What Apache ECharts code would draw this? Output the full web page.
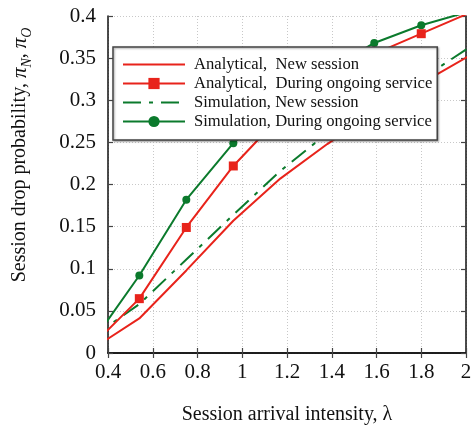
<!DOCTYPE html>
<html>
<head>
<meta charset="utf-8">
<script src="https://cdn.jsdelivr.net/npm/echarts@6/dist/echarts.min.js"></script>
<style>
  html, body { margin: 0; padding: 0; background: #fff; }
  #chart { width: 474px; height: 425px; }
</style>
</head>
<body>
<div id="chart"></div>
<script>
// 到达强度 λ（首尾两个点落在坐标轴外，被裁剪）
const lambdaValues = [0.33, 0.54, 0.75, 0.96, 1.17, 1.38, 1.59, 1.80, 2.01];
const analyticalNew = [0.005, 0.041, 0.098, 0.157, 0.207, 0.248, 0.285, 0.320, 0.352];
const analyticalOngoing = [0.009, 0.0645, 0.149, 0.222, 0.281, 0.322, 0.355, 0.379, 0.403];
const simulationNew = [0.019, 0.058, 0.111, 0.164, 0.216, 0.261, 0.293, 0.325, 0.362];
const simulationOngoing = [0.013, 0.092, 0.182, 0.249, 0.295, 0.335, 0.368, 0.389, 0.405];

const seriesNames = [
  'Analytical,  New session',
  'Analytical,  During ongoing service',
  'Simulation, New session',
  'Simulation, During ongoing service'
];

const RED = '#e8231b';
const GREEN = '#0b7a2c';
const FONT = '"Liberation Serif", "DejaVu Serif", serif';

function pairs(ys) {
  let arr = [];
  for (let i in ys) {
    arr.push([lambdaValues[i], ys[i]]);
  }
  return arr;
}

const chart = echarts.init(document.getElementById('chart'), null, { renderer: 'canvas' });

const axisLine = { show: true, lineStyle: { color: '#111', width: 1.5 } };
const axisTick = { show: true, inside: true, length: 5, lineStyle: { color: '#444', width: 1.2 } };
const splitLine = { show: true, lineStyle: { color: '#c8c8c8', type: [1, 2], width: 1 } };

let option = {
  backgroundColor: '#fff',
  animation: false,
  grid: { left: 108, right: 8, top: 16, bottom: 72, outerBoundsMode: 'none', containLabel: false },
  xAxis: [{
    type: 'value',
    min: 0.4,
    max: 2,
    interval: 0.2,
    axisLine: axisLine,
    axisTick: axisTick,
    splitLine: splitLine,
    axisLabel: { color: '#111', fontFamily: FONT, fontSize: 21, margin: 9 },
    name: 'Session arrival intensity, λ',
    nameLocation: 'middle',
    nameGap: 52,
    nameTextStyle: { color: '#111', fontFamily: FONT, fontSize: 20 }
  }, {
    type: 'value',
    position: 'top',
    min: 0.4,
    max: 2,
    interval: 0.2,
    axisLine: axisLine,
    axisTick: axisTick,
    splitLine: { show: false },
    axisLabel: { show: false }
  }],
  yAxis: [{
    type: 'value',
    min: 0,
    max: 0.4,
    interval: 0.05,
    axisLine: axisLine,
    axisTick: axisTick,
    splitLine: splitLine,
    axisLabel: { color: '#111', fontFamily: FONT, fontSize: 21, margin: 12 }
  }, {
    type: 'value',
    position: 'right',
    min: 0,
    max: 0.4,
    interval: 0.05,
    axisLine: axisLine,
    axisTick: axisTick,
    splitLine: { show: false },
    axisLabel: { show: false }
  }],
  legend: {
    // 无标记的两条线在图例里也不显示标记
    data: [
      { name: seriesNames[0], itemStyle: { opacity: 0 } },
      { name: seriesNames[1] },
      { name: seriesNames[2], itemStyle: { opacity: 0 } },
      { name: seriesNames[3] }
    ],
    orient: 'vertical',
    left: 113,
    top: 47,
    z: 20,
    padding: [8, 5, 9, 9],
    itemWidth: 62,
    itemHeight: 14,
    itemGap: 0,
    backgroundColor: '#fff',
    borderColor: '#444',
    borderWidth: 1.5,
    shadowColor: 'rgba(0,0,0,0.35)',
    shadowBlur: 2,
    shadowOffsetX: 1,
    shadowOffsetY: 1,
    textStyle: { color: '#111', fontFamily: FONT, fontSize: 16.6, lineHeight: 19, padding: [0, 0, 0, 4] }
  },
  graphic: [{
    type: 'text',
    x: 20,
    y: 155,
    rotation: Math.PI / 2,
    style: {
      text: 'Session drop probability, {it|π}{sub|N}{n|,} {it|π}{sub|O}',
      fill: '#111',
      font: '20px ' + FONT,
      align: 'center',
      verticalAlign: 'middle',
      rich: {
        it: { fontStyle: 'italic', fontSize: 21, fontFamily: FONT, lineHeight: 28 },
        n: { fontSize: 20, fontFamily: FONT, lineHeight: 28 },
        sub: { fontStyle: 'italic', fontSize: 14, fontFamily: FONT, verticalAlign: 'bottom' }
      }
    }
  }],
  series: [{
    name: seriesNames[2],
    type: 'line',
    data: pairs(simulationNew),
    symbol: 'none',
    z: 2,
    lineStyle: { color: GREEN, width: 2, type: [18, 8, 4, 8] },
    itemStyle: { color: GREEN }
  }, {
    name: seriesNames[3],
    type: 'line',
    data: pairs(simulationOngoing),
    symbol: 'circle',
    symbolSize: 8,
    z: 2,
    lineStyle: { color: GREEN, width: 2 },
    itemStyle: { color: GREEN }
  }, {
    name: seriesNames[0],
    type: 'line',
    data: pairs(analyticalNew),
    symbol: 'none',
    z: 3,
    lineStyle: { color: RED, width: 2 },
    itemStyle: { color: RED }
  }, {
    name: seriesNames[1],
    type: 'line',
    data: pairs(analyticalOngoing),
    symbol: 'rect',
    symbolSize: 9,
    z: 3,
    lineStyle: { color: RED, width: 2 },
    itemStyle: { color: RED }
  }]
};

chart.setOption(option);
</script>
</body>
</html>
